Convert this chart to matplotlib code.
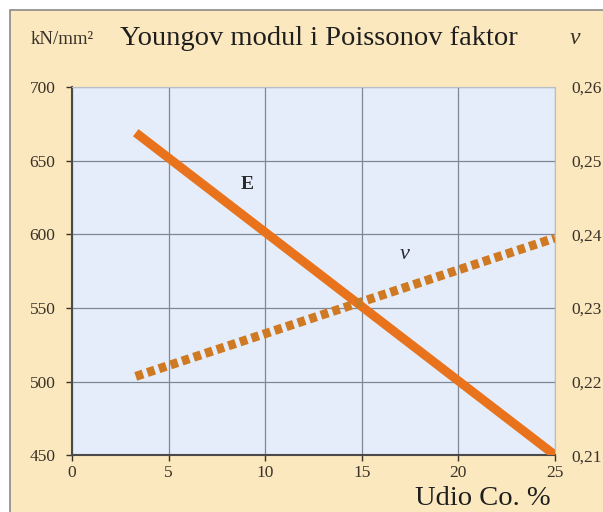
import matplotlib

matplotlib.use("Agg")
import matplotlib.pyplot as plt
from matplotlib.patches import Rectangle

# data
co_share = [3.3, 25]
youngs_e = [669, 450]
poisson_nu = [0.2207, 0.2395]

x_ticks = [0, 5, 10, 15, 20, 25]
e_ticks = [450, 500, 550, 600, 650, 700]
nu_ticks = [0.21, 0.22, 0.23, 0.24, 0.25, 0.26]
nu_labels = ["0,21", "0,22", "0,23", "0,24", "0,25", "0,26"]

serif = "Liberation Serif"
txt = "#3a3228"

fig = plt.figure(figsize=(6.03, 5.12), dpi=100)
fig.patch.set_facecolor("white")
# beige panel with a thin gray frame
fig.add_artist(Rectangle((0.016, -0.02), 1.0, 1.0,
                         transform=fig.transFigure, facecolor="#fbe8bf",
                         edgecolor="#8a8a8a", lw=1.2, zorder=-10))

ax = fig.add_axes([0.1194, 0.111, 0.801, 0.719])
ax.set_facecolor("#e4edf9")
ax.plot(co_share, youngs_e, color="#e8731c", lw=6.5, solid_capstyle="butt", zorder=3)
ax.set_xlim(0, 25)
ax.set_ylim(450, 700)
ax.set_xticks(x_ticks)
ax.set_yticks(e_ticks)
ax.grid(True, color="#7d8796", lw=0.9)
for s in ("top", "right"):
    ax.spines[s].set_color("#b8bec8")
for s in ("left", "bottom"):
    ax.spines[s].set_color("#4a4a4a")
    ax.spines[s].set_linewidth(1.5)
ax.tick_params(axis="both", labelsize=12.5, colors=txt, length=4, width=1)
ax.tick_params(axis="y", pad=8)
ax.tick_params(axis="x", pad=3)
for lbl in ax.get_xticklabels() + ax.get_yticklabels():
    lbl.set_family(serif)

ax2 = ax.twinx()
ax2.plot(co_share, poisson_nu, color="#cf7a22", lw=6.5,
         linestyle=(0, (0.85, 0.5)), dash_capstyle="butt", zorder=3)
ax2.set_ylim(0.21, 0.26)
ax2.set_yticks(nu_ticks)
ax2.set_yticklabels(nu_labels, family=serif, fontsize=12.5, color=txt)
ax2.tick_params(axis="y", length=0, pad=12)
for s in ax2.spines.values():
    s.set_visible(False)

ax.text(9.06, 634, "E", family=serif, fontweight="bold", fontsize=14,
        color="#2a2a2a", ha="center", va="center")
ax.text(17.2, 586, "ν", family=serif, style="italic", fontsize=16,
        color="#2a2a3a", ha="center", va="center")

fig.text(0.05, 0.922, "kN/mm²", family=serif, fontsize=13.5, color=txt, va="center")
fig.text(0.199, 0.924, "Youngov modul i Poissonov faktor", family=serif,
         fontsize=20.5, color="#1e1e1e", va="center")
fig.text(0.954, 0.924, "ν", family=serif, style="italic", fontsize=17,
         color=txt, va="center", ha="center")
fig.text(0.688, 0.027, "Udio Co. %", family=serif, fontsize=20.5,
         color="#1e1e1e", va="center")

fig.savefig("out.png", dpi=100)
